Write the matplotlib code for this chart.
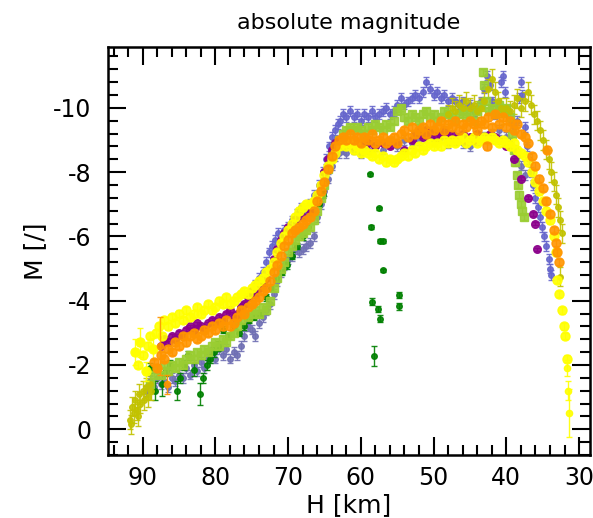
import matplotlib
matplotlib.use("Agg")
import matplotlib.pyplot as plt
from matplotlib.ticker import MultipleLocator

plt.rcParams['axes.unicode_minus'] = False
plt.rcParams['font.family'] = ['DejaVu Sans']

# ---------------- data (H [km], M [mag]) ----------------
# slate blue, upper track
SB1_H = [74.5, 74.0, 73.5, 73.0, 72.6, 72.2, 71.8, 71.4, 71.0, 70.6,
         70.0, 69.4, 68.8, 68.2, 67.6, 67.0, 66.4, 65.8, 65.2,
         64.8, 64.4, 64.0, 63.6, 63.2, 62.8, 62.4, 62.0,
         61.5, 61.0, 60.5, 60.0, 59.5, 59.0, 58.5, 58.0, 57.5, 57.0, 56.5, 56.0,
         55.5, 55.0, 54.5, 54.0, 53.5, 53.0, 52.5, 52.0, 51.5, 51.0, 50.5, 50.0,
         49.5, 49.0, 48.5, 48.0, 47.5, 47.0, 46.5, 46.0, 45.5, 45.0, 44.5, 44.0,
         43.5, 43.0,
         42.6, 42.3, 42.0, 41.6, 41.2, 40.8, 40.5, 40.2, 39.8, 39.4, 39.0, 38.6,
         38.2, 38.0, 37.8, 37.5, 37.2, 36.9, 36.6, 36.3, 36.0, 35.7, 35.4, 35.1,
         34.8, 34.5, 34.2, 34.0, 33.8]
SB1_M = [-4.5, -4.7, -4.9, -5.2, -5.5, -5.7, -5.9, -6.1, -6.0, -6.2,
         -6.3, -6.5, -6.7, -6.9, -6.8, -7.0, -7.3, -7.6, -8.0,
         -8.4, -8.8, -9.1, -9.3, -9.5, -9.6, -9.8, -9.7,
         -9.9, -9.7, -9.8, -9.6, -9.8, -9.7, -9.9, -9.7, -9.8, -9.9, -10.0, -9.8,
         -9.9, -10.1, -10.3, -10.1, -10.2, -10.3, -10.4, -10.3, -10.5, -10.8, -10.6, -10.4,
         -10.5, -10.3, -10.4, -10.2, -10.3, -10.2, -10.1, -10.2, -10.0, -10.1, -9.9, -10.0,
         -10.2, -10.6,
         -11.0, -10.7, -10.2, -9.8, -10.1, -10.8, -11.0, -10.5, -9.9, -9.6, -9.4, -9.6,
         -10.3, -10.8, -10.4, -9.4, -8.8, -8.4, -8.0, -7.6, -7.2, -6.9, -6.6, -6.3,
         -6.0, -5.7, -5.3, -5.0, -4.8]

# slate blue, lower track
SB2_H = [89.5, 89.0, 88.5, 88.0, 87.5, 87.0, 86.5, 86.0, 85.5, 85.0,
         84.5, 84.0, 83.5, 83.0, 82.5, 82.0, 81.5, 81.0, 80.5, 80.0,
         79.5, 79.0, 78.5, 78.0, 77.5, 77.0, 76.5, 76.0, 75.5, 75.0,
         74.5, 74.0, 73.5, 73.0, 72.5, 72.0, 71.5, 71.0, 70.5, 70.0,
         69.5, 69.0, 68.5, 68.0, 67.5, 67.0, 66.5, 66.0, 65.5, 65.0,
         64.5, 64.0, 63.5, 63.0, 62.5, 62.0,
         61.0, 60.0, 59.0, 58.0, 57.0, 56.0, 55.0, 54.0, 53.0, 52.0, 51.0,
         50.0, 49.0, 48.0, 47.0, 46.0, 45.0, 44.0, 43.0, 42.0, 41.0, 40.0,
         39.5, 39.0, 38.5, 38.0, 37.5]
SB2_M = [-1.2, -1.5, -1.3, -1.6, -1.4, -1.5, -1.3, -1.6, -1.5, -1.7,
         -1.6, -1.9, -1.7, -2.0, -1.8, -2.1, -1.9, -2.2, -2.4, -2.2,
         -2.5, -2.3, -2.5, -2.2, -2.4, -2.3, -2.6, -2.9, -3.2, -3.1,
         -2.9, -3.3, -3.5, -3.7, -3.9, -4.2, -4.6, -4.9, -5.1, -5.3,
         -5.4, -5.6, -5.5, -5.6, -5.7, -5.8, -6.0, -6.6, -7.0, -7.4,
         -7.8, -8.2, -8.5, -8.6, -8.7, -8.6,
         -8.7, -8.6, -8.7, -8.8, -8.7, -8.9, -8.8, -9.0, -8.9, -9.0, -9.1,
         -9.0, -9.1, -8.9, -9.0, -8.9, -8.8, -9.0, -9.1, -9.2, -9.3, -9.1,
         -8.9, -8.7, -8.5, -8.2, -7.9]

# green (with individual uncertainties)
GR_H = [89.0, 88.3, 87.4, 86.8, 86.2, 85.3, 84.9, 84.3, 83.7, 83.0, 82.1, 81.7,
        81.2, 80.7, 80.2, 79.6, 78.9, 78.3, 77.5, 76.8, 76.0, 75.4, 74.7, 73.9,
        73.0, 72.3, 71.6, 70.9, 70.2, 69.5, 68.8, 68.0, 67.2, 66.5, 65.8, 65.2,
        58.7, 58.6, 57.5, 57.3, 56.9, 56.9, 58.5, 57.6, 57.3, 58.2, 54.7, 54.7]
GR_M = [-1.9, -1.2, -1.4, -1.8, -2.0, -1.2, -1.6, -2.0, -2.3, -1.85, -1.1, -1.6,
        -2.0, -2.2, -2.4, -2.6, -3.1, -2.9, -3.2, -3.0, -3.2, -3.4, -3.5, -3.6,
        -4.1, -4.4, -4.7, -4.9, -5.1, -5.4, -5.7, -6.0, -6.3, -6.7, -7.0, -7.3,
        -7.93, -6.29, -6.88, -5.86, -5.86, -4.94, -3.97, -3.74, -3.44, -2.28, -4.18, -3.82]
GR_E = [0.15, 0.3, 0.35, 0.15, 0.15, 0.3, 0.15, 0.15, 0.15, 0.2, 0.35, 0.15,
        0.15, 0.15, 0.15, 0.15, 0.1, 0.1, 0.1, 0.1, 0.1, 0.1, 0.1, 0.1,
        0.1, 0.1, 0.1, 0.1, 0.1, 0.1, 0.1, 0.1, 0.1, 0.1, 0.1, 0.1,
        0.05, 0.05, 0.05, 0.05, 0.05, 0.05, 0.1, 0.1, 0.1, 0.3, 0.1, 0.1]

# yellow-green
YG_H = [89.0, 88.5, 88.0, 87.5, 87.0, 86.5, 86.0, 85.5, 85.0, 84.5,
        84.0, 83.5, 83.0, 82.5, 82.0, 81.5, 81.0, 80.5, 80.0, 79.5,
        79.0, 78.5, 78.0, 77.5, 77.0, 76.5, 76.0, 75.5, 75.0, 74.5,
        74.0, 73.5, 73.0, 72.5, 72.0, 71.5, 71.0, 70.5, 70.0, 69.5,
        69.0, 68.5, 68.0, 67.5, 67.0, 66.5, 66.0, 65.5, 65.0, 64.5,
        64.0, 63.5, 63.0, 62.5, 62.0, 61.5, 61.0, 60.5, 60.0, 59.5,
        59.0, 58.5, 58.0, 57.5, 57.0, 56.5, 56.0, 55.5, 55.0, 54.5,
        54.0, 53.5, 53.0, 52.5, 52.0, 51.5, 51.0, 50.5, 50.0, 49.5,
        49.0, 48.5, 48.0, 47.5, 47.0, 46.5, 46.0, 45.5, 45.0, 44.5,
        44.0, 43.5,
        43.2, 43.1, 42.8, 42.4, 42.0, 41.5, 41.0, 40.5, 40.0, 39.5,
        39.2, 39.0, 38.8, 38.6, 38.4, 38.2, 38.0, 37.8, 37.6]
YG_M = [-1.4, -1.7, -1.9, -1.7, -2.0, -1.8, -2.0, -1.9, -2.1, -2.0,
        -2.2, -2.3, -2.2, -2.4, -2.3, -2.5, -2.4, -2.6, -2.7, -2.6,
        -2.8, -2.7, -2.9, -3.0, -3.2, -3.4, -3.6, -3.5, -3.6, -3.7,
        -3.6, -3.8, -3.7, -4.0, -4.4, -4.7, -5.0, -5.2, -5.5, -5.7,
        -5.9, -6.0, -6.1, -6.2, -6.3, -6.5, -6.8, -7.2, -7.6, -8.1,
        -8.5, -8.8, -9.0, -9.2, -9.3, -9.4, -9.3, -9.4, -9.3, -9.2,
        -9.4, -9.3, -9.5, -9.4, -9.3, -9.5, -9.4, -9.6, -9.9, -10.0,
        -9.7, -9.6, -9.8, -9.7, -9.6, -9.8, -9.9, -9.7, -9.8, -9.6,
        -9.7, -9.9, -9.8, -9.7, -9.6, -9.8, -9.9, -9.7, -9.8, -9.6,
        -9.9, -10.1,
        -11.1, -10.7, -10.2, -9.9, -10.0, -9.8, -10.1, -9.9, -10.0, -9.7,
        -9.2, -8.7, -8.3, -7.9, -7.6, -7.3, -7.0, -6.8, -6.6]

# olive
OL_H = [91.8, 91.6, 91.5, 91.2, 91.0, 90.8, 90.6, 90.5, 90.3, 90.0, 89.8, 89.5,
        89.3, 89.0, 88.8,
        48.0, 47.5, 47.0, 46.5, 46.0, 45.5, 45.0, 44.5, 44.0, 43.5, 43.0,
        42.5, 42.0, 41.6, 41.2, 40.8, 40.4, 40.0, 39.5, 39.0, 38.5, 38.0, 37.5,
        37.0, 36.6, 36.2, 35.8, 35.4, 35.0, 34.6, 34.2, 33.8, 33.5, 33.2, 32.9,
        32.6, 32.4, 32.6]
OL_M = [-0.3, -0.15, -0.7, -0.5, -0.9, -0.6, -0.4, -1.1, -0.8, -1.2, -0.9, -1.3,
        -1.0, -1.4, -1.2,
        -9.8, -10.0, -9.9, -10.1, -10.0, -10.2, -10.0, -10.1, -9.9, -10.0, -10.2,
        -10.6, -10.9, -10.5, -10.2, -10.0, -9.8, -10.0, -9.9, -10.1, -10.3, -10.0, -10.2,
        -10.5, -10.1, -9.8, -9.6, -9.3, -9.0, -8.7, -8.4, -8.0, -7.7, -7.3, -6.9,
        -6.5, -6.1, -4.75]

# purple
PU_H = [87.5, 87.0, 86.5, 86.0, 85.5, 85.0, 84.5, 84.0, 83.5, 83.0,
        82.5, 82.0, 81.5, 81.0, 80.5, 80.0, 79.5, 79.0, 78.5, 78.0,
        77.5, 77.0, 76.5, 76.0, 75.5, 75.0, 74.5, 74.0, 73.5, 73.0,
        72.5, 72.0, 71.5, 71.0, 70.5, 70.0,
        69.0, 68.0, 67.0, 66.0,
        65.5, 65.0, 64.5, 64.0, 63.5, 63.0,
        62.0, 61.0, 60.0, 59.0, 58.0, 57.0, 56.0, 55.0, 54.0, 53.0,
        52.5, 52.0, 51.5, 51.0, 50.5, 50.0, 49.5, 49.0, 48.5, 48.0,
        47.5, 47.0, 46.5, 46.0, 45.5, 45.0, 44.5, 44.0,
        43.0, 42.2, 41.5, 41.0, 40.0, 39.0, 38.0, 37.0, 36.3, 36.0, 35.8]
PU_M = [-2.6, -2.8, -2.7, -2.9, -2.8, -3.0, -2.9, -3.1, -3.2, -3.1,
        -3.3, -3.2, -3.1, -3.3, -3.4, -3.3, -3.5, -3.4, -3.6, -3.7,
        -3.5, -3.6, -3.8, -3.9, -4.1, -4.3, -4.2, -4.4, -4.5, -4.7,
        -5.0, -5.3, -5.6, -5.9, -6.1, -6.3,
        -6.5, -6.6, -6.8, -7.2,
        -7.6, -8.0, -8.4, -8.7, -8.9, -9.0,
        -8.9, -8.8, -8.8, -8.9, -8.8, -8.9, -8.8, -8.9, -8.7, -9.0,
        -9.2, -9.3, -9.1, -9.3, -9.2, -9.3, -9.1, -9.2, -9.3, -9.1,
        -9.2, -9.0, -9.1, -9.2, -9.0, -9.1, -9.0, -9.2,
        -9.1, -9.2, -9.1, -9.0, -8.8, -8.4, -7.8, -7.2, -6.7, -6.4, -5.6]

# yellow
YE_H = [91.0, 90.6, 90.3, 90.0, 89.6, 89.3, 89.0, 88.6, 88.2, 87.8, 87.3,
        87.0, 86.5, 86.0, 85.5, 85.0, 84.5, 84.0, 83.5, 83.0, 82.5,
        82.0, 81.5, 81.0, 80.5, 80.0, 79.5, 79.0, 78.5, 78.0, 77.5,
        77.0, 76.5, 76.0, 75.5, 75.0, 74.5, 74.0, 73.5, 73.0, 72.5,
        72.0, 71.5, 71.0, 70.5, 70.0, 69.5, 69.0, 68.5, 68.0, 67.5,
        67.0, 66.5, 66.0, 65.5, 65.0, 64.5, 64.0, 63.5, 63.0, 62.5,
        62.0, 61.5, 61.0, 60.5, 60.0, 59.5, 59.0, 58.5, 58.0, 57.5,
        57.0, 56.5, 56.0, 55.5, 55.0, 54.5, 54.0, 53.5, 53.0, 52.5,
        52.0, 51.5, 51.0, 50.5, 50.0, 49.5, 49.0, 48.5, 48.0, 47.5,
        47.0, 46.5, 46.0, 45.5, 45.0, 44.5, 44.0, 43.5, 43.0, 42.5,
        42.0, 41.5, 41.0, 40.5, 40.0, 39.5, 39.0, 38.5, 38.0, 37.5,
        37.0, 36.5, 36.0, 35.5, 35.0, 34.5, 34.0, 33.5,
        33.2, 33.0, 32.8, 32.4, 32.1, 31.9, 31.6]
YE_M = [-2.4, -2.0, -2.7, -2.3, -1.8, -2.6, -2.9, -2.5, -3.0, -3.2, -2.9,
        -3.4, -3.2, -3.5, -3.3, -3.6, -3.4, -3.7, -3.5, -3.6, -3.8,
        -3.6, -3.7, -3.9, -3.7, -3.8, -4.0, -3.9, -4.1, -3.9, -4.0,
        -4.1, -4.2, -4.3, -4.2, -4.4, -4.5, -4.6, -4.7, -4.9, -5.0,
        -5.2, -5.5, -5.8, -6.0, -6.2, -6.4, -6.6, -6.8, -6.9, -7.0,
        -7.0, -7.1, -7.3, -7.6, -7.9, -8.2, -8.4, -8.6, -8.8, -8.9,
        -8.8, -8.9, -8.7, -8.8, -8.6, -8.7, -8.6, -8.5, -8.6, -8.4,
        -8.5, -8.3, -8.4, -8.3, -8.4, -8.5, -8.6, -8.5, -8.7, -8.6,
        -8.8, -8.7, -8.8, -8.9, -8.8, -8.9, -8.8, -9.0, -8.9, -9.0,
        -8.9, -9.0, -9.1, -8.9, -9.0, -9.1, -8.9, -9.0, -9.1, -9.0,
        -9.1, -9.0, -8.9, -9.0, -8.9, -8.8, -8.9, -8.7, -8.6, -8.5,
        -8.3, -8.0, -7.7, -7.4, -7.1, -6.8, -6.5, -6.0,
        -5.5, -4.65, -4.2, -3.7, -3.2, -2.9, -2.2]
# yellow points with large uncertainties
YE_EH = [91.0, 90.3, 89.6, 88.6, 31.6, 31.5, 31.35]
YE_EM = [-2.4, -2.7, -1.8, -2.5, -1.9, -1.2, -0.5]
YE_EE = [0.4, 0.45, 0.3, 0.35, 0.25, 0.3, 0.75]

# orange
OR_H = [88.5, 88.0, 87.5, 87.0, 86.5, 86.0, 85.5, 85.0, 84.5, 84.0,
        83.5, 83.0, 82.5, 82.0, 81.5, 81.0, 80.5, 80.0, 79.5, 79.0,
        78.5, 78.0, 77.5, 77.0, 76.5, 76.0, 75.5, 75.0, 74.5, 74.0,
        73.5, 73.0, 72.5, 72.0, 71.5, 71.0, 70.5, 70.0, 69.5, 69.0,
        68.5, 68.0, 67.5, 67.0, 66.5, 66.0, 65.5, 65.0, 64.5, 64.0,
        63.5, 63.0, 62.5, 62.0, 61.5, 61.0, 60.5, 60.0, 59.5, 59.0,
        58.5, 58.0, 57.5, 57.0, 56.5, 56.0, 55.5, 55.0, 54.5, 54.0,
        53.5, 53.0, 52.5, 52.0, 51.5, 51.0, 50.5, 50.0, 49.5, 49.0,
        48.5, 48.0, 47.5, 47.0, 46.5, 46.0, 45.5, 45.0, 44.5, 44.0,
        43.5, 43.0,
        42.6, 42.5, 42.0, 41.5, 41.0, 40.5, 40.0, 39.5, 39.0, 38.5, 38.0, 37.5,
        37.0, 36.5, 36.0, 35.5, 35.0, 34.4, 34.5, 34.0, 33.5, 33.2, 33.0, 32.8]
OR_M = [-2.1, -1.9, -2.3, -2.2, -2.5, -2.4, -2.7, -2.6, -2.9, -2.7,
        -2.9, -3.0, -2.8, -2.9, -3.1, -3.0, -3.2, -3.1, -3.3, -3.2,
        -3.4, -3.2, -3.3, -3.5, -3.7, -3.6, -3.8, -3.9, -4.0, -4.1,
        -4.3, -4.4, -4.6, -4.9, -5.1, -5.4, -5.7, -5.9, -6.1, -6.2,
        -6.3, -6.4, -6.5, -6.6, -6.8, -7.1, -7.4, -7.7, -8.1, -8.5,
        -8.8, -9.0, -9.1, -9.0, -9.2, -9.0, -9.1, -8.9, -9.1, -9.0,
        -9.2, -8.9, -9.0, -9.1, -8.9, -9.0, -9.1, -8.9, -9.2, -9.3,
        -9.1, -9.4, -9.2, -9.3, -9.4, -9.2, -9.5, -9.3, -9.4, -9.6,
        -9.3, -9.5, -9.4, -9.6, -9.3, -9.5, -9.4, -9.6, -9.5, -9.3,
        -9.6, -9.5,
        -8.8, -9.7, -9.4, -9.8, -9.5, -9.7, -9.4, -9.6, -9.3, -9.5, -9.2, -9.1,
        -8.9, -8.5, -8.2, -7.8, -7.5, -8.7, -7.1, -6.7, -6.2, -5.8, -5.5, -5.2]
# orange points with large uncertainties
OR_EH = [87.6, 86.7]
OR_EM = [-2.6, -1.4]
OR_EE = [0.9, 0.3]

# ---------------- figure ----------------
fig = plt.figure(figsize=(5.93, 5.18), dpi=100)
ax = fig.add_axes([0.1816, 0.1216, 0.8133, 0.7882])

def eb(h, m, e, color, ms, marker='o', cap=2.0, alpha=0.9, z=2):
    ax.errorbar(h, m, yerr=e, fmt=marker, color=color, ms=ms, mec=color,
                ecolor=color, elinewidth=1.0, capsize=cap, capthick=1.0,
                alpha=alpha, zorder=z, lw=0)

eb(SB1_H, SB1_M, 0.15, '#6666cc', 4.0, cap=2.5, z=2)
eb(SB2_H, SB2_M, 0.15, '#7070b4', 4.0, cap=2.5, z=2)
eb(GR_H, GR_M, GR_E, '#008000', 4.0, cap=2.5, z=3)
eb(YG_H, YG_M, 0.1, '#9acd32', 5.5, marker='s', z=4)
eb(OL_H, OL_M, 0.3, '#c2c200', 4.0, cap=2.5, z=4)
eb(PU_H, PU_M, 0.05, '#8b008b', 5.5, z=5)
eb(YE_H, YE_M, 0.1, '#ffff00', 6.5, z=6)
eb(YE_EH, YE_EM, YE_EE, '#ffff00', 4.5, cap=2.5, z=6)
eb(OR_H, OR_M, 0.1, '#ff9500', 6.5, z=7)
eb(OR_EH, OR_EM, OR_EE, '#ff9500', 4.5, cap=2.5, z=7)

ax.set_xlim(94.8, 28.5)
ax.set_ylim(0.8, -11.9)
ax.xaxis.set_major_locator(MultipleLocator(10))
ax.xaxis.set_minor_locator(MultipleLocator(2))
ax.yaxis.set_major_locator(MultipleLocator(2))
ax.yaxis.set_minor_locator(MultipleLocator(0.4))

ax.tick_params(which='both', direction='in', top=True, right=True, width=1.5)
ax.tick_params(which='major', length=13)
ax.tick_params(which='minor', length=7.5)
ax.tick_params(axis='x', which='major', labelsize=17, pad=8)
ax.tick_params(axis='y', which='major', labelsize=17, pad=12)
for s in ax.spines.values():
    s.set_linewidth(1.8)

ax.set_xlabel('H [km]', fontsize=18, labelpad=2)
ax.set_ylabel('M [/]', fontsize=18, labelpad=4)
ax.set_title('absolute magnitude', fontsize=16, pad=13)

fig.savefig('out.png', dpi=100)
